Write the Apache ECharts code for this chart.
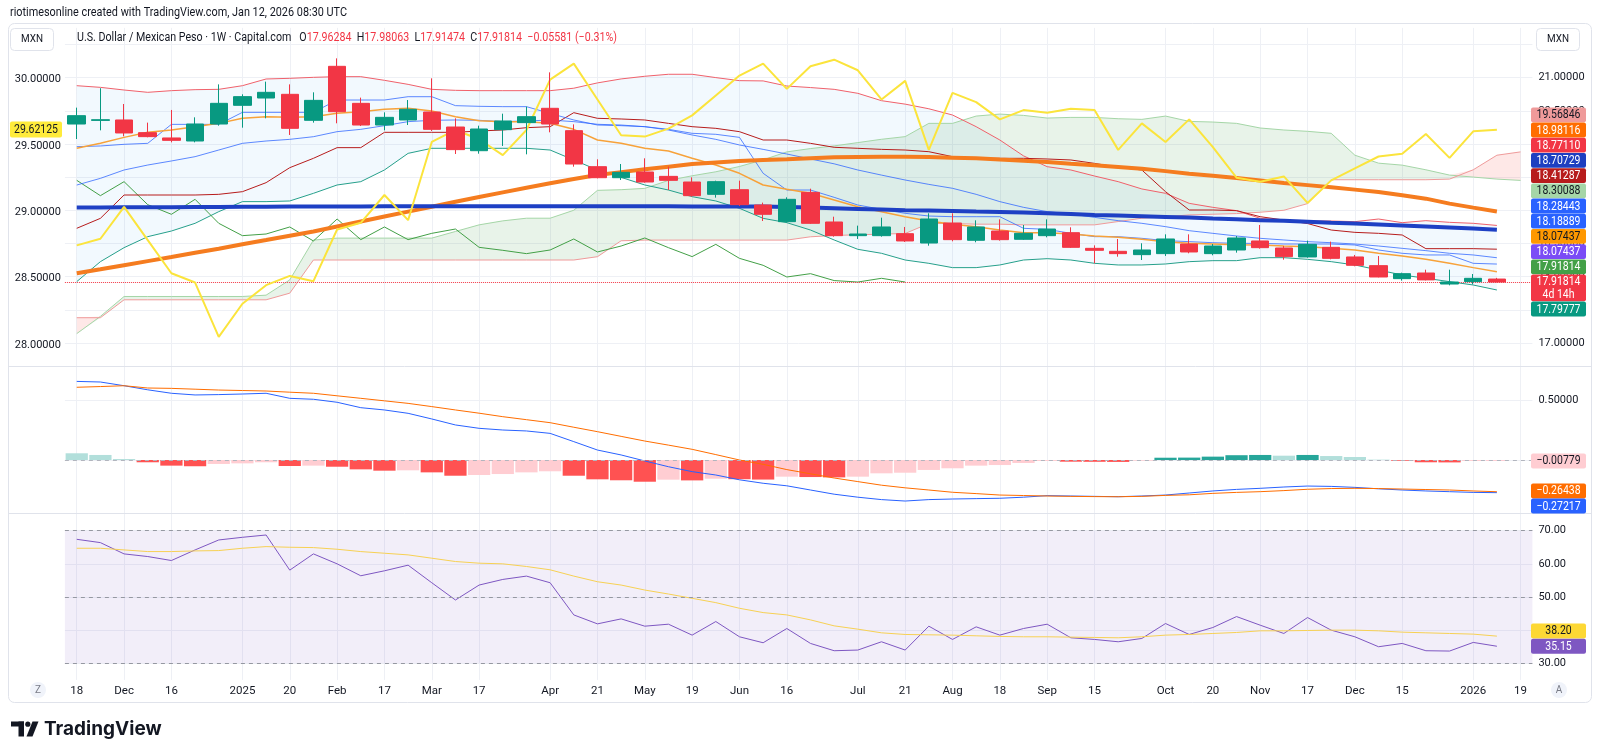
<!DOCTYPE html>
<html>
<head>
<meta charset="utf-8">
<title>USD/MXN 1W</title>
<script src="https://cdn.jsdelivr.net/npm/echarts@6.0.0/dist/echarts.min.js"></script>
<style>
  html, body { margin: 0; padding: 0; background: #fff; }
  #chart { width: 1600px; height: 756px; }
</style>
</head>
<body>
<div id="chart"></div>
<script>
// weekly slots, the last one only carries the cloud
const weeks = ['2024-11-18','2024-11-25','2024-12-02','2024-12-09','2024-12-16','2024-12-23','2024-12-30',
  '2025-01-06','2025-01-13','2025-01-20','2025-01-27','2025-02-03','2025-02-10','2025-02-17','2025-02-24',
  '2025-03-03','2025-03-10','2025-03-17','2025-03-24','2025-03-31','2025-04-07','2025-04-14','2025-04-21','2025-04-28',
  '2025-05-05','2025-05-12','2025-05-19','2025-05-26','2025-06-02','2025-06-09','2025-06-16','2025-06-23','2025-06-30',
  '2025-07-07','2025-07-14','2025-07-21','2025-07-28','2025-08-04','2025-08-11','2025-08-18','2025-08-25',
  '2025-09-01','2025-09-08','2025-09-15','2025-09-22','2025-09-29','2025-10-06','2025-10-13','2025-10-20','2025-10-27',
  '2025-11-03','2025-11-10','2025-11-17','2025-11-24','2025-12-01','2025-12-08','2025-12-15','2025-12-22','2025-12-29',
  '2026-01-05','2026-01-12','2026-01-19'];
const tickLabels = ['18','','Dec','','16','','','2025','','20','','Feb','','17','','Mar','','17','','','Apr','','21','','May','','19','','Jun','','16','','',
  'Jul','','21','','Aug','','18','','Sep','','15','','','Oct','','20','','Nov','','17','','Dec','','15','','','2026','','19'];

// USD/MXN candles (right scale)
const open = [20.300,20.355,20.361,20.170,20.090,20.044,20.300,20.582,20.692,20.748,
  20.356,21.170,20.612,20.285,20.361,20.481,20.255,19.898,20.215,20.321,
  20.537,20.200,19.657,19.491,19.577,19.511,19.426,19.240,19.310,19.079,
  18.828,19.270,18.823,18.617,18.617,18.647,18.506,18.808,18.547,18.687,
  18.562,18.617,18.662,18.426,18.381,18.331,18.346,18.491,18.346,18.401,
  18.537,18.431,18.296,18.441,18.296,18.165,17.969,18.054,17.888,17.924,
  17.96284];
const close = [20.426,20.365,20.165,20.110,20.054,20.300,20.612,20.713,20.778,20.235,
  20.657,20.486,20.285,20.401,20.522,20.220,19.914,20.225,20.346,20.411,
  20.300,19.697,19.491,19.572,19.426,19.451,19.220,19.431,19.084,18.939,
  19.165,18.803,18.617,18.642,18.748,18.537,18.868,18.557,18.748,18.557,
  18.652,18.717,18.441,18.396,18.346,18.401,18.567,18.371,18.461,18.582,
  18.436,18.301,18.486,18.275,18.170,17.994,18.044,17.950,17.918,17.97395,
  17.91814];
const high = [20.547,20.840,20.602,20.321,20.512,20.401,20.898,20.748,20.939,20.898,
  20.778,21.290,20.698,20.476,20.662,20.989,20.386,20.275,20.456,20.562,
  21.079,20.295,19.768,19.697,19.783,19.657,19.496,19.446,19.446,19.115,
  19.195,19.325,18.903,18.768,18.888,18.748,18.954,18.954,18.848,18.863,
  18.778,18.863,18.743,18.471,18.567,18.502,18.637,18.637,18.491,18.612,
  18.778,18.461,18.542,18.527,18.326,18.310,18.059,18.104,18.104,18.039,
  17.98063];
const low = [20.074,20.205,20.115,20.100,20.024,20.024,20.275,20.245,20.386,20.135,
  20.321,20.311,20.270,20.205,20.285,20.195,19.848,19.853,19.969,19.843,
  20.175,19.657,19.481,19.456,19.416,19.305,19.205,19.190,19.064,18.838,
  18.813,18.793,18.602,18.567,18.602,18.522,18.466,18.532,18.517,18.542,
  18.552,18.592,18.431,18.200,18.300,18.250,18.311,18.351,18.321,18.361,
  18.421,18.255,18.285,18.260,18.155,17.989,17.939,17.943,17.868,17.883,
  17.91474];

// bands
const bandUpper = [20.878,20.853,20.813,20.778,20.803,20.818,20.823,20.878,20.979,20.989,
  21.004,21.014,21.014,20.959,20.898,20.823,20.808,20.803,20.803,20.803,
  20.803,20.840,20.920,20.980,21.020,21.050,21.050,21.000,20.954,20.950,
  20.873,20.850,20.823,20.763,20.652,20.600,20.530,20.436,20.260,20.059,
  19.820,19.657,19.607,19.516,19.431,19.321,19.255,19.104,19.044,18.994,
  18.878,18.843,18.838,18.838,18.828,18.868,18.813,18.843,18.818,18.803,
  18.771];
const bandLower = [17.924,18.225,18.436,18.602,18.687,18.803,18.979,19.130,19.130,19.140,
  19.255,19.381,19.431,19.607,19.858,19.934,19.934,19.934,19.934,19.934,
  19.908,19.758,19.607,19.496,19.381,19.305,19.205,19.140,19.029,18.878,
  18.813,18.702,18.552,18.411,18.351,18.250,18.200,18.135,18.135,18.175,
  18.250,18.270,18.250,18.200,18.175,18.175,18.190,18.225,18.240,18.240,
  18.285,18.285,18.260,18.225,18.175,18.099,18.024,17.974,17.924,17.873,
  17.798];

// moving averages
const maFast = [19.934,20.009,20.099,20.175,20.210,20.260,20.310,20.386,20.411,20.401,
  20.411,20.461,20.486,20.522,20.537,20.497,20.411,20.351,20.336,20.336,
  20.311,20.220,20.059,20.009,19.934,19.893,19.783,19.682,19.557,19.381,
  19.316,19.255,19.155,19.054,18.979,18.903,18.838,18.788,18.753,18.702,
  18.662,18.662,18.642,18.612,18.592,18.562,18.527,18.501,18.491,18.481,
  18.476,18.461,18.451,18.426,18.401,18.351,18.310,18.260,18.200,18.135,
  18.074];
const maMid = [19.380,19.481,19.607,19.682,19.743,19.808,19.908,20.009,20.044,20.069,
  20.109,20.185,20.220,20.275,20.336,20.356,20.361,20.356,20.336,20.346,
  20.360,20.336,20.296,20.285,20.260,20.210,20.135,20.069,19.984,19.918,
  19.848,19.773,19.700,19.607,19.530,19.456,19.390,19.331,19.240,19.130,
  19.044,18.979,18.944,18.893,18.843,18.803,18.753,18.692,18.652,18.612,
  18.577,18.552,18.527,18.511,18.491,18.461,18.426,18.391,18.351,18.326,
  18.284];
const maSlow = [18.049,18.110,18.172,18.233,18.294,18.358,18.421,18.487,18.551,18.616,
  18.680,18.755,18.830,18.905,18.980,19.054,19.128,19.199,19.270,19.338,
  19.406,19.470,19.532,19.575,19.617,19.657,19.697,19.720,19.743,19.756,
  19.768,19.783,19.798,19.803,19.808,19.806,19.803,19.793,19.783,19.765,
  19.748,19.728,19.702,19.677,19.652,19.627,19.590,19.552,19.519,19.486,
  19.449,19.411,19.379,19.346,19.311,19.275,19.225,19.175,19.100,19.040,
  18.981];
const maLong = [19.040,19.042,19.044,19.046,19.047,19.049,19.050,19.052,19.053,19.055,
  19.056,19.057,19.058,19.059,19.060,19.060,19.061,19.061,19.062,19.062,
  19.062,19.062,19.062,19.061,19.060,19.059,19.058,19.057,19.056,19.055,
  19.050,19.040,19.030,19.020,19.010,19.000,18.995,18.990,18.980,18.975,
  18.965,18.955,18.945,18.930,18.920,18.910,18.900,18.890,18.875,18.865,
  18.850,18.840,18.825,18.810,18.800,18.785,18.770,18.755,18.740,18.725,
  18.707];

// ichimoku
const tenkan = [19.959,19.969,19.994,20.009,20.295,20.295,20.295,20.476,20.476,20.476,
  20.476,20.662,20.662,20.662,20.712,20.712,20.577,20.567,20.562,20.562,
  20.460,20.361,20.285,20.275,20.260,20.220,20.160,20.145,20.099,19.557,
  19.305,19.305,19.195,19.079,19.014,18.954,18.913,18.903,18.903,18.903,
  18.728,18.712,18.652,18.602,18.602,18.577,18.542,18.527,18.511,18.501,
  18.501,18.491,18.491,18.491,18.476,18.401,18.351,18.326,18.326,18.200,
  18.189];
const kijun = [18.728,18.878,19.230,19.230,19.230,19.230,19.240,19.280,19.416,19.642,
  19.783,19.944,19.944,20.175,20.175,20.175,20.175,20.195,20.210,20.245,
  20.260,20.471,20.386,20.376,20.361,20.310,20.260,20.235,20.185,20.059,
  20.059,20.009,19.949,19.934,19.918,19.908,19.883,19.808,19.783,19.783,
  19.783,19.773,19.758,19.707,19.647,19.607,19.280,19.004,19.004,18.994,
  18.903,18.853,18.800,18.702,18.667,18.652,18.627,18.421,18.421,18.421,
  18.413];
const lagging = [19.451,19.220,19.431,19.084,18.939,19.165,18.803,18.617,18.642,18.748,
  18.537,18.868,18.557,18.748,18.557,18.652,18.717,18.441,18.396,18.346,
  18.401,18.567,18.371,18.461,18.582,18.436,18.301,18.486,18.275,18.170,
  17.994,18.044,17.940,17.918,17.974,17.918];
const spanA = [17.14,17.40,17.70,17.70,17.70,17.70,17.70,17.70,17.72,17.95,
  18.55,18.58,18.58,18.58,18.58,18.58,18.68,18.78,18.84,18.88,
  18.88,19.00,19.30,19.31,19.33,19.45,19.52,19.58,19.66,19.76,
  19.88,19.93,19.97,20.02,20.07,20.11,20.31,20.31,20.42,20.45,
  20.43,20.39,20.40,20.40,20.38,20.37,20.42,20.34,20.33,20.31,
  20.24,20.21,20.19,20.16,19.83,19.71,19.68,19.61,19.53,19.50,
  19.47,19.45];
const spanB = [17.38,17.38,17.65,17.65,17.65,17.65,17.65,17.65,17.65,17.75,
  18.25,18.25,18.25,18.25,18.25,18.25,18.25,18.25,18.25,18.25,
  18.25,18.25,18.30,18.54,18.55,18.55,18.55,18.55,18.55,18.55,
  18.55,18.60,18.62,18.63,18.64,18.65,18.80,18.80,18.79,18.79,
  18.78,18.78,18.78,18.78,18.83,18.88,18.90,18.93,18.94,18.95,
  18.97,19.00,19.10,19.46,19.46,19.46,19.46,19.46,19.47,19.61,
  19.83,19.88];

// yellow comparison line (left scale)
const compare = [28.75,28.80,29.04,28.79,28.54,28.47,28.06,28.31,28.45,28.52,
  28.48,28.87,28.92,29.13,28.94,29.53,29.62,29.55,29.43,29.62,
  30.00,30.12,29.85,29.58,29.57,29.63,29.73,29.88,30.03,30.12,
  29.93,30.10,30.15,30.07,29.85,29.99,29.47,29.90,29.83,29.70,
  29.77,29.75,29.78,29.77,29.47,29.67,29.53,29.70,29.49,29.26,
  29.23,29.27,29.07,29.24,29.33,29.42,29.44,29.59,29.41,29.61,
  29.62125];

// MACD pane
const macdLine = [0.655,0.650,0.619,0.585,0.556,0.542,0.545,0.550,0.556,0.514,
  0.506,0.481,0.436,0.417,0.389,0.342,0.292,0.264,0.250,0.242,
  0.222,0.153,0.083,0.042,-0.008,-0.056,-0.097,-0.125,-0.165,-0.194,
  -0.215,-0.250,-0.285,-0.310,-0.330,-0.342,-0.330,-0.325,-0.322,-0.319,
  -0.310,-0.297,-0.300,-0.303,-0.306,-0.300,-0.292,-0.275,-0.258,-0.245,
  -0.236,-0.225,-0.217,-0.220,-0.228,-0.240,-0.250,-0.258,-0.264,-0.270,
  -0.27217];
const signalLine = [0.606,0.612,0.619,0.600,0.597,0.590,0.583,0.579,0.575,0.565,
  0.556,0.535,0.514,0.493,0.472,0.445,0.417,0.390,0.361,0.336,
  0.311,0.273,0.236,0.197,0.158,0.124,0.089,0.045,0.000,-0.036,
  -0.080,-0.115,-0.150,-0.180,-0.210,-0.232,-0.250,-0.269,-0.280,-0.292,
  -0.296,-0.300,-0.303,-0.305,-0.306,-0.303,-0.295,-0.290,-0.278,-0.270,
  -0.264,-0.255,-0.244,-0.238,-0.236,-0.238,-0.242,-0.246,-0.250,-0.258,
  -0.26438];
const macdHist = [0.056,0.042,0.008,-0.019,-0.047,-0.052,-0.033,-0.028,-0.019,-0.050,
  -0.047,-0.056,-0.078,-0.089,-0.086,-0.103,-0.131,-0.125,-0.117,-0.103,
  -0.094,-0.131,-0.161,-0.169,-0.181,-0.164,-0.170,-0.156,-0.160,-0.163,
  -0.139,-0.142,-0.145,-0.139,-0.111,-0.106,-0.083,-0.069,-0.047,-0.042,
  -0.025,-0.008,-0.014,-0.015,-0.016,-0.006,0.019,0.020,0.028,0.040,
  0.042,0.036,0.042,0.033,0.025,0.003,-0.006,-0.019,-0.020,-0.008,
  -0.00779];

// RSI pane
const rsi = [67.4,66.4,63.0,62.2,61.0,64.2,67.2,68.0,68.7,58.1,
  63.0,60.0,56.4,57.9,59.6,54.3,49.1,53.6,55.3,56.3,
  54.3,44.6,41.9,43.4,41.2,41.8,38.5,42.6,38.0,36.2,
  40.5,36.0,33.8,34.0,36.5,34.0,41.2,37.2,41.0,38.5,
  40.5,41.8,37.7,37.2,36.5,37.5,42.0,38.7,40.8,44.1,
  41.5,39.0,43.8,40.0,38.0,35.0,36.0,33.8,33.7,36.3,
  35.15];
const rsiMa = [64.7,64.7,64.2,63.7,63.7,63.9,64.0,64.7,65.2,65.0,
  64.9,64.4,63.7,63.2,62.7,61.7,60.7,60.2,60.0,59.2,
  58.2,56.3,54.6,53.6,52.1,50.9,49.6,48.3,46.6,45.3,
  44.6,43.1,41.3,40.3,39.2,38.7,38.6,38.5,38.3,38.1,
  38.0,38.0,37.9,37.8,37.7,38.0,38.5,38.7,39.0,39.3,
  39.8,39.8,39.9,40.0,40.0,39.8,39.4,39.2,39.0,38.8,
  38.20];

// last-value tags shown on the scales
const priceTags = [19.56846,18.98116,18.77110,18.70729,18.41287,18.30088,18.28443,18.18889,18.07437,18.07437,17.91814,17.91814,17.79777];
const macdTags = [-0.00779,-0.26438,-0.27217];
const rsiTags = [38.20,35.15];

const FONT = 'Roboto, sans-serif';
const TXT = '#131722';
const GRIDC = '#EEF0F5';
const N = weeks.length;
const pad = a => a.concat(new Array(N - a.length).fill(null));
const fmt = (v, d) => (v < 0 ? '\u2212' : '') + Math.abs(v).toFixed(d);

// the reference font is narrower than Roboto, so squeeze overlay text to the measured widths
const mctx = document.createElement('canvas').getContext('2d');
function textW(text, font) { mctx.font = font; return mctx.measureText(text).width; }

const candles = open.map((o, i) => [o, close[i], low[i], high[i]]);
const bandWidth = bandUpper.map((u, i) => +(u - bandLower[i]).toFixed(4));
const cloudBase = spanA.map((a, i) => Math.min(a, spanB[i]));
const cloudUp = spanA.map((a, i) => +Math.max(a - spanB[i], 0).toFixed(3));
const cloudDown = spanA.map((a, i) => +Math.max(spanB[i] - a, 0).toFixed(3));

// tradingview style histogram colours
function histColor(i) {
  const v = macdHist[i];
  const prev = i > 0 ? macdHist[i - 1] : v + (v >= 0 ? 1 : -1);
  if (v >= 0) return v > prev ? '#26A69A' : '#B2DFDB';
  return v < prev ? '#FF5252' : '#FFCDD2';
}

const GL = 64.9, GW = 1467.5;

function timeAxis(gi, labels) {
  return {
    type: 'category', gridIndex: gi, data: weeks, boundaryGap: true,
    axisLine: { show: false }, axisTick: { show: false },
    axisLabel: { show: labels, interval: 0, formatter: (v, i) => tickLabels[i], color: TXT, fontSize: 11.5, fontFamily: FONT, margin: 5 },
    splitLine: { show: gi !== 1, alignWithLabel: true, interval: i => tickLabels[i] !== '', lineStyle: { color: GRIDC } }
  };
}
function line(data, color, width, z, extra) {
  return Object.assign({ type: 'line', data: pad(data), xAxisIndex: 0, yAxisIndex: 0, symbol: 'none',
    lineStyle: { color, width }, z, silent: true }, extra || {});
}
function stacked(stack, data, fill) {
  const s = { type: 'line', stack, stackStrategy: 'all', data: pad(data), xAxisIndex: 0, yAxisIndex: 0,
    symbol: 'none', lineStyle: { width: 0, opacity: 0 }, z: 1, silent: true };
  if (fill) s.areaStyle = { color: fill, opacity: 1 };
  return s;
}

const chart = echarts.init(document.getElementById('chart'));

const TAG_FONT = '12px ' + FONT;
const tagScale = Math.min(1, 44 / textW('19.56846', TAG_FONT));
function tag(x, y, w, h, bg, fg, text) {
  return { type: 'group', x, y, z: 100, silent: true, children: [
    { type: 'rect', z: 100, shape: { x: 0, y: 0, width: w, height: h, r: 2 }, style: { fill: bg } },
    { type: 'text', z: 101, x: w / 2, y: h / 2 + 0.5, scaleX: tagScale,
      style: { text, fill: fg, font: TAG_FONT, align: 'center', verticalAlign: 'middle', lineHeight: 13 } }
  ] };
}
const tagStyle = [['#EF9A9A', TXT], ['#FF6D00', '#fff'], ['#F23645', '#fff'], ['#1E3FC0', '#fff'], ['#B71C1C', '#fff'],
  ['#A5D6A7', TXT], ['#2962FF', '#fff'], ['#2962FF', '#fff'], ['#FF9800', TXT], ['#7B4CF6', '#fff'],
  ['#43A047', '#fff'], ['#F23645', '#fff'], ['#089981', '#fff']];

const graphics = [];
graphics.push({ type: 'rect', shape: { x: 8.5, y: 23.5, width: 1583, height: 679, r: 6 }, style: { fill: 'none', stroke: '#E0E3EB' }, z: 90, silent: true });
[366.5, 513.5].forEach(y => graphics.push({ type: 'line', shape: { x1: 9, y1: y, x2: 1591, y2: y }, style: { stroke: '#E0E3EB', lineWidth: 1 }, z: 90, silent: true }));

const header = 'riotimesonline created with TradingView.com, Jan 12, 2026 08:30 UTC';
const HEAD_FONT = '13px ' + FONT;
graphics.push({ type: 'text', x: 10, y: 13, z: 100, scaleX: 337 / textW(header, HEAD_FONT),
  style: { text: header, fill: TXT, font: HEAD_FONT, verticalAlign: 'middle' } });

[[10.5, 28.5], [1536.5, 28.5]].forEach(p => {
  graphics.push({ type: 'rect', shape: { x: p[0], y: p[1], width: 43, height: 22, r: 4 }, style: { fill: '#fff', stroke: '#E0E3EB' }, z: 95 });
  graphics.push({ type: 'text', x: p[0] + 21.5, y: p[1] + 11, z: 96, scaleX: 0.9,
    style: { text: 'MXN', fill: TXT, font: '11px ' + FONT, align: 'center', verticalAlign: 'middle' } });
});

// legend line: symbol + last bar OHLC
const last = open.length - 1;
const chg = close[last] - close[last - 1];
const legendParts = [
  ['n', 'U.S. Dollar / Mexican Peso · 1W · Capital.com   '],
  ['n', 'O'], ['v', open[last].toFixed(5) + '  '],
  ['n', 'H'], ['v', high[last].toFixed(5) + '  '],
  ['n', 'L'], ['v', low[last].toFixed(5) + '  '],
  ['n', 'C'], ['v', close[last].toFixed(5) + '  '],
  ['v', fmt(chg, 5) + ' (' + fmt(chg / close[last - 1] * 100, 2) + '%)']
];
const LEG_FONT = '12.5px ' + FONT;
const legendPlain = legendParts.map(p => p[1]).join('');
graphics.push({ type: 'text', x: 77, y: 38, z: 100, scaleX: 540 / textW(legendPlain, LEG_FONT), style: {
  text: legendParts.map(p => '{' + p[0] + '|' + p[1] + '}').join(''),
  font: LEG_FONT, verticalAlign: 'middle',
  rich: { n: { fill: TXT, fontSize: 12.5, fontFamily: FONT }, v: { fill: '#F23645', fontSize: 12.5, fontFamily: FONT } } } });

// stacked price tags, right scale
let ty = 107.4;
priceTags.forEach((v, k) => {
  const h = k === 11 ? 27 : 15.2;
  const text = k === 11 ? v.toFixed(5) + '\n4d 14h' : v.toFixed(5);
  graphics.push(tag(1531, ty, 55, h - 0.4, tagStyle[k][0], tagStyle[k][1], text));
  ty += h;
});
graphics.push(tag(10, 121.5, 52, 16, '#FFEB3B', TXT, compare[last].toFixed(5)));
const macdTagStyle = [['#FFCDD2', TXT, 453.4], ['#FF6D00', '#fff', 483.4], ['#2962FF', '#fff', 498.6]];
macdTags.forEach((v, k) => graphics.push(tag(1531, macdTagStyle[k][2], 55, 15, macdTagStyle[k][0], macdTagStyle[k][1], fmt(v, 5))));
const rsiTagStyle = [['#FDD835', TXT, 623.4], ['#7E57C2', '#fff', 638.8]];
rsiTags.forEach((v, k) => graphics.push(tag(1531, rsiTagStyle[k][2], 55, 15, rsiTagStyle[k][0], rsiTagStyle[k][1], v.toFixed(2))));

// Z / A buttons on the time scale
[[38, 'Z'], [1559, 'A']].forEach(p => {
  graphics.push({ type: 'circle', shape: { cx: p[0], cy: 690, r: 8 }, style: { fill: '#F0F3FA' }, z: 100 });
  graphics.push({ type: 'text', x: p[0], y: 690, z: 101, style: { text: p[1], fill: '#787B86', font: '10px ' + FONT, align: 'center', verticalAlign: 'middle' } });
});
// logo
graphics.push({ type: 'group', z: 100, children: [
  { type: 'rect', z: 100, shape: { x: 11, y: 721.5, width: 13, height: 5 }, style: { fill: TXT } },
  { type: 'rect', z: 100, shape: { x: 18.5, y: 721.5, width: 5.5, height: 15 }, style: { fill: TXT } },
  { type: 'circle', z: 100, shape: { cx: 27.8, cy: 724.2, r: 2.6 }, style: { fill: TXT } },
  { type: 'polygon', z: 100, shape: { points: [[32.5, 721.5], [38.5, 721.5], [32.5, 736.5], [26.5, 736.5]] }, style: { fill: TXT } },
  { type: 'text', z: 100, x: 44, y: 729.5, style: { text: 'TradingView', fill: TXT, font: 'bold 19px Inter, Roboto, sans-serif', verticalAlign: 'middle' } }
] });

chart.setOption({
  animation: false,
  backgroundColor: '#fff',
  grid: [
    { left: GL, width: GW, top: 27.85, height: 331.65 },
    { left: GL, width: GW, top: 46.4, height: 331.65 },
    { left: GL, width: GW, top: 340, height: 180 },
    { left: GL, width: GW, top: 514.1, height: 165.8 }
  ],
  xAxis: [timeAxis(0, false), timeAxis(1, false), timeAxis(2, false), timeAxis(3, true)],
  yAxis: [
    { type: 'value', gridIndex: 0, position: 'right', min: 16.75, max: 21.75, interval: 0.25,
      axisLine: { show: false }, axisTick: { show: false },
      axisLabel: { color: TXT, fontSize: 11, fontFamily: FONT, margin: 6,
        formatter: v => Math.abs(v * 2 - Math.round(v * 2)) < 1e-6 && v < 21.2 ? v.toFixed(5) : '' },
      splitLine: { lineStyle: { color: ['transparent', GRIDC] } } },
    { type: 'value', gridIndex: 1, position: 'left', min: 27.75, max: 30.25, interval: 0.25,
      axisLine: { show: false }, axisTick: { show: false }, splitLine: { show: false },
      axisLabel: { color: TXT, fontSize: 11, fontFamily: FONT, margin: 4,
        formatter: v => Math.abs(v * 2 - Math.round(v * 2)) < 1e-6 && v < 30.2 ? v.toFixed(5) : '' } },
    { type: 'value', gridIndex: 2, position: 'right', min: -0.5, max: 1, interval: 0.5,
      axisLine: { show: false }, axisTick: { show: false },
      axisLabel: { color: TXT, fontSize: 11, fontFamily: FONT, margin: 6, formatter: v => v === 0.5 ? '0.50000' : '' },
      splitLine: { lineStyle: { color: ['transparent', GRIDC, GRIDC, 'transparent'] } } },
    { type: 'value', gridIndex: 3, position: 'right', min: 25, max: 75, interval: 5,
      axisLine: { show: false }, axisTick: { show: false },
      axisLabel: { color: TXT, fontSize: 11, fontFamily: FONT, margin: 6, formatter: v => v % 10 === 0 ? v.toFixed(2) : '' },
      splitLine: { lineStyle: { color: ['transparent', GRIDC] } } }
  ],
  graphic: graphics,
  series: [
    // fills
    stacked('band', bandLower, null),
    stacked('band', bandWidth, 'rgba(33,150,243,0.06)'),
    stacked('cloud', cloudBase, null),
    stacked('cloud', cloudUp, 'rgba(67,160,71,0.12)'),
    stacked('cloud', cloudDown, 'rgba(244,67,54,0.12)'),
    // ichimoku + bands
    line(spanA, '#A5D6A7', 1, 2),
    line(spanB, '#EF9A9A', 1, 2),
    line(bandUpper, '#F0616B', 1, 3),
    line(bandLower, '#26A08B', 1, 3),
    line(lagging, '#43A047', 1, 3),
    line(kijun, '#B71C1C', 1, 3),
    line(tenkan, '#2962FF', 1, 3, { lineStyle: { color: '#2962FF', width: 1, opacity: 0.75 } }),
    line(maMid, '#2962FF', 1, 3, { lineStyle: { color: '#2962FF', width: 1, opacity: 0.75 } }),
    line(maFast, '#F7A23A', 1.5, 3),
    line(maSlow, '#F57C1F', 4, 4),
    line(maLong, '#1E40C4', 4, 4),
    // yellow on the left scale
    { type: 'line', data: pad(compare), xAxisIndex: 1, yAxisIndex: 1, symbol: 'none',
      lineStyle: { color: '#FBE43C', width: 2 }, z: 5, silent: true },
    { type: 'candlestick', data: candles, xAxisIndex: 0, yAxisIndex: 0, barWidth: 18, z: 6, silent: true,
      itemStyle: { color: '#089981', color0: '#F23645', borderColor: '#089981', borderColor0: '#F23645', borderWidth: 1 },
      markLine: { silent: true, symbol: ['none', 'none'], label: { show: false },
        lineStyle: { color: '#F23645', type: 'dotted', width: 1 }, data: [{ yAxis: close[last] }] } },
    // MACD
    { type: 'bar', data: pad(macdHist), xAxisIndex: 2, yAxisIndex: 2, barCategoryGap: '6%', z: 2, silent: true,
      itemStyle: { color: p => histColor(p.dataIndex) },
      markLine: { silent: true, symbol: ['none', 'none'], label: { show: false },
        lineStyle: { color: '#B2B5BE', type: [4, 4], width: 1 }, data: [{ yAxis: 0 }] } },
    { type: 'line', data: pad(macdLine), xAxisIndex: 2, yAxisIndex: 2, symbol: 'none', lineStyle: { color: '#2962FF', width: 1 }, z: 3, silent: true },
    { type: 'line', data: pad(signalLine), xAxisIndex: 2, yAxisIndex: 2, symbol: 'none', lineStyle: { color: '#FF6D00', width: 1 }, z: 3, silent: true },
    // RSI
    { type: 'line', data: pad(rsi), xAxisIndex: 3, yAxisIndex: 3, symbol: 'none', lineStyle: { color: '#7E57C2', width: 1 }, z: 3, silent: true,
      markArea: { silent: true, itemStyle: { color: 'rgba(126,87,194,0.1)' }, data: [[{ yAxis: 30 }, { yAxis: 70 }]] },
      markLine: { silent: true, symbol: ['none', 'none'], label: { show: false },
        lineStyle: { color: '#9598A1', type: [4, 4], width: 1 }, data: [{ yAxis: 70 }, { yAxis: 50 }, { yAxis: 30 }] } },
    { type: 'line', data: pad(rsiMa), xAxisIndex: 3, yAxisIndex: 3, symbol: 'none', lineStyle: { color: '#F7D154', width: 1 }, z: 3, silent: true }
  ]
});
</script>
</body>
</html>
